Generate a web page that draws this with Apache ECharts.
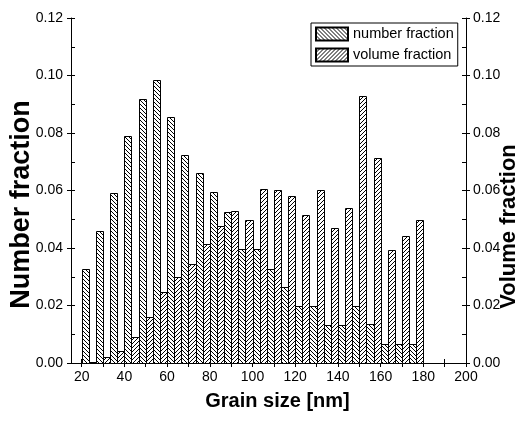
<!DOCTYPE html>
<html><head><meta charset="utf-8">
<script src="https://cdn.jsdelivr.net/npm/echarts@6/dist/echarts.min.js"></script>
<style>html,body{margin:0;padding:0;background:#fff}#c{width:521px;height:424px}</style>
</head><body><div id="c"></div>
<script>
// Bin centres (nm)
const grainSize = [23.3, 30, 36.7, 43.3, 50, 56.7, 63.3, 70, 76.7, 83.3, 90, 96.7, 103.3, 110, 116.7, 123.3, 130, 136.7, 143.3, 150, 156.7, 163.3, 170, 176.7];
const numberFraction = [0.0327, 0.046, 0.059, 0.079, 0.092, 0.0985, 0.0855, 0.0723, 0.066, 0.0594, 0.0524, 0.0396, 0.0396, 0.0328, 0.0263, 0.0198, 0.0198, 0.0132, 0.0132, 0.0198, 0.0135, 0.0066, 0.0066, 0.0066];
const volumeFraction = [0.0005, 0.002, 0.0042, 0.0089, 0.0159, 0.0248, 0.030, 0.0343, 0.0413, 0.0475, 0.053, 0.0497, 0.0606, 0.0603, 0.058, 0.0515, 0.0602, 0.0469, 0.0538, 0.0927, 0.0712, 0.0392, 0.0443, 0.0497];
const xMajorTicks = [20, 40, 60, 80, 100, 120, 140, 160, 180, 200];
const xAllTicks = [20, 30, 40, 50, 60, 70, 80, 90, 100, 110, 120, 130, 140, 150, 160, 170, 180, 190, 200];

const BIN = 6.667;
const FONT = '"Liberation Sans", Arial, sans-serif';

function hatch(back) {
  const s = 4, cv = document.createElement('canvas');
  cv.width = s; cv.height = s;
  const g = cv.getContext('2d');
  g.fillStyle = '#fff'; g.fillRect(0, 0, s, s);
  g.fillStyle = '#000';
  for (let i = 0; i < s; i++) g.fillRect(back ? i : s - 1 - i, i, 1, 1);
  return { image: cv, repeat: 'repeat' };
}
const patBack = hatch(true), patFwd = hatch(false);

function makeRender(side, pat) {
  return function (params, api) {
    const x = api.value(0), y = api.value(1);
    const xl = side === 0 ? x - BIN / 2 : x;
    const p0 = api.coord([xl, y]);
    const p1 = api.coord([xl + BIN / 2, 0]);
    const x0 = Math.round(p0[0]) + 0.5, x1 = Math.round(p1[0]) + 0.5;
    const y0 = Math.round(p0[1]) + 0.5, y1 = Math.round(p1[1]) + 0.5;
    return { type: 'rect', shape: { x: x0, y: y0, width: x1 - x0, height: y1 - y0 },
      style: { fill: pat, stroke: '#000', lineWidth: 1 } };
  };
}

const axisLineStyle = { show: true, lineStyle: { color: '#000', width: 1 } };
const chart = echarts.init(document.getElementById('c'));
chart.setOption({
  animation: false,
  backgroundColor: '#fff',
  textStyle: { fontFamily: FONT },
  grid: { left: 71, right: 55, top: 18, bottom: 61, outerBoundsMode: 'none', containLabel: false },
  legend: {
    left: 311, top: 23, orient: 'vertical', padding: [3, 4, 3, 4], itemGap: 5,
    itemWidth: 32, itemHeight: 13, borderColor: '#000', borderWidth: 1, backgroundColor: '#fff',
    icon: 'rect',
    textStyle: { fontFamily: FONT, fontSize: 14.5, color: '#000', lineHeight: 16 },
    data: ['number fraction', 'volume fraction']
  },
  xAxis: [
    { type: 'value', position: 'bottom', min: 15, max: 200,
      axisLine: axisLineStyle,
      axisTick: { show: true, inside: false, length: 4, customValues: xMajorTicks, lineStyle: { color: '#000' } },
      axisLabel: { customValues: xMajorTicks, fontSize: 14, color: '#000', margin: 7, fontFamily: FONT },
      splitLine: { show: false },
      name: 'Grain size [nm]', nameLocation: 'middle', nameGap: 28, nameMoveOverlap: false,
      nameTextStyle: { fontSize: 20, fontWeight: 'bold', color: '#000', fontFamily: FONT, padding: [0, 0, 0, 18] } },
    { type: 'value', position: 'top', min: 15, max: 200,
      axisLine: axisLineStyle,
      axisTick: { show: true, inside: true, length: 4, customValues: xAllTicks, lineStyle: { color: '#000' } },
      axisLabel: { show: false }, splitLine: { show: false } },
    { type: 'value', position: 'bottom', min: 15, max: 200,
      axisLine: { show: false },
      axisTick: { show: true, inside: true, length: 4, customValues: xAllTicks, lineStyle: { color: '#000' } },
      axisLabel: { show: false }, splitLine: { show: false } }
  ],
  yAxis: [
    { type: 'value', position: 'left', min: 0, max: 0.12, interval: 0.02,
      axisLine: axisLineStyle,
      axisTick: { show: true, inside: false, length: 4, lineStyle: { color: '#000' } },
      axisLabel: { fontSize: 14, color: '#000', margin: 8, fontFamily: FONT, formatter: v => v.toFixed(2) },
      splitLine: { show: false },
      name: 'Number fraction', nameLocation: 'middle', nameGap: 36, nameRotate: 90, nameMoveOverlap: false,
      nameTextStyle: { fontSize: 27, fontWeight: 'bold', color: '#000', fontFamily: FONT, padding: [0, 28, 0, 0] } },
    { type: 'value', position: 'right', min: 0, max: 0.12, interval: 0.02,
      axisLine: axisLineStyle,
      axisTick: { show: true, inside: false, length: 4, lineStyle: { color: '#000' } },
      axisLabel: { fontSize: 14, color: '#000', margin: 7, fontFamily: FONT, formatter: v => v.toFixed(2) },
      splitLine: { show: false },
      name: 'Volume fraction', nameLocation: 'middle', nameGap: 32, nameRotate: 90, nameMoveOverlap: false,
      nameTextStyle: { fontSize: 22, fontWeight: 'bold', color: '#000', fontFamily: FONT, padding: [0, 72, 0, 0] } },
    { type: 'value', position: 'left', min: 0, max: 0.12, interval: 0.01,
      axisLine: { show: false },
      axisTick: { show: true, inside: true, length: 4, lineStyle: { color: '#000' } },
      axisLabel: { show: false }, splitLine: { show: false } },
    { type: 'value', position: 'right', min: 0, max: 0.12, interval: 0.01,
      axisLine: { show: false },
      axisTick: { show: true, inside: true, length: 4, lineStyle: { color: '#000' } },
      axisLabel: { show: false }, splitLine: { show: false } }
  ],
  series: [
    { name: 'number fraction', type: 'custom', xAxisIndex: 0, yAxisIndex: 0,
      itemStyle: { color: patBack, borderColor: '#000', borderWidth: 1 },
      renderItem: makeRender(0, patBack),
      data: grainSize.map((g, i) => [g, numberFraction[i]]) },
    { name: 'volume fraction', type: 'custom', xAxisIndex: 0, yAxisIndex: 1,
      itemStyle: { color: patFwd, borderColor: '#000', borderWidth: 1 },
      renderItem: makeRender(1, patFwd),
      data: grainSize.map((g, i) => [g, volumeFraction[i]]) }
  ]
});
</script></body></html>
